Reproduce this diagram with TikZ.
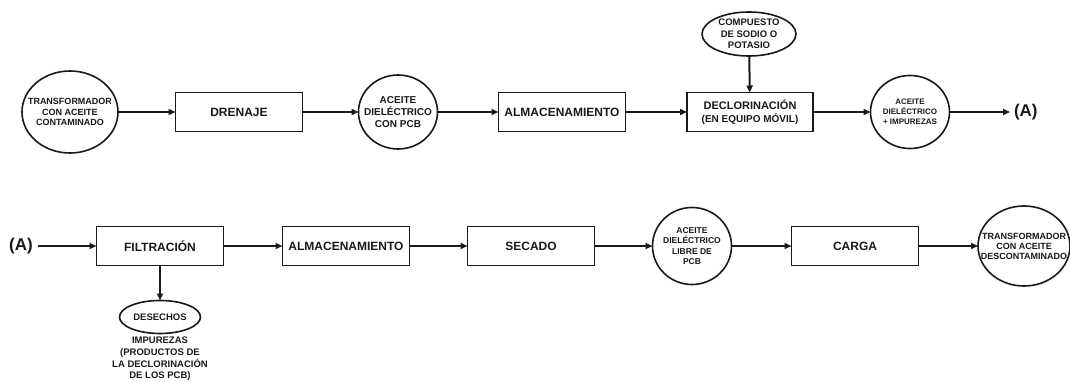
\documentclass[tikz,border=0pt]{standalone}
\usepackage{fontspec}
\setmainfont{Liberation Sans}
\usetikzlibrary{shapes.geometric,arrows.meta}
\begin{document}
\begin{tikzpicture}[x=1pt,y=-1pt,
  every node/.style={inner sep=0pt,outer sep=0pt,text=black!90,align=center},
  every label/.style={inner sep=0pt,outer sep=0pt,text=black!90,align=center},
  stepbox/.style={draw=black!90,line width=1.6pt,rectangle,minimum width=127pt,minimum height=39pt,font=\bfseries\fontsize{12}{13}\selectfont},
  oval/.style={draw=black!90,line width=1.6pt,ellipse},
  flow/.style={draw=black!90,line width=2pt,-{Triangle[length=7pt,width=6pt]}}
]
\useasboundingbox (0,0) rectangle (1070,382);
% Row 1
\node[oval,minimum width=96pt,minimum height=82pt,label={[font=\bfseries\fontsize{9}{10.5}\selectfont]center:TRANSFORMADOR\\CON ACEITE\\CONTAMINADO}] (t1) at (70,112) {};
\node[stepbox] (dren) at (239,112) {DRENAJE};
\node[oval,minimum width=79pt,minimum height=74pt,label={[font=\bfseries\fontsize{10}{12}\selectfont]center:ACEITE\\DIELÉCTRICO\\CON PCB}] (c2) at (398,112) {};
\node[stepbox] (alm1) at (562,112) {ALMACENAMIENTO};
\node[stepbox,minimum width=126pt,label={[font=\bfseries\fontsize{11}{13}\selectfont]center:DECLORINACIÓN\\{\fontsize{10}{11}\selectfont (EN EQUIPO MÓVIL)}}] (decl) at (750,112) {};
\node[oval,minimum width=94pt,minimum height=44pt,label={[font=\bfseries\fontsize{9.5}{11.5}\selectfont]center:COMPUESTO\\DE SODIO O\\POTASIO}] (comp) at (749,34) {};
\node[oval,minimum width=79pt,minimum height=73pt,label={[font=\bfseries\fontsize{8}{10}\selectfont]center:ACEITE\\DIELÉCTRICO\\+ IMPUREZAS}] (c3) at (910,112) {};
\node[font=\bfseries\fontsize{17}{19}\selectfont,anchor=west] (a1) at (1014,112) {(A)};
\draw[flow] (t1) -- (dren);
\draw[flow] (dren) -- (c2);
\draw[flow] (c2) -- (alm1);
\draw[flow] (alm1) -- (decl);
\draw[flow] (comp) -- (decl);
\draw[flow] (decl) -- (c3);
\draw[flow] (c3) -- ([xshift=-4pt]a1.west);
% Row 2
\node[font=\bfseries\fontsize{17}{19}\selectfont] (a2) at (21,246) {(A)};
\node[stepbox] (filt) at (160,246) {FILTRACIÓN};
\node[stepbox] (alm2) at (346,246) {ALMACENAMIENTO};
\node[stepbox] (sec) at (531,246) {SECADO};
\node[oval,minimum width=79pt,minimum height=77pt,label={[font=\bfseries\fontsize{8.5}{10.3}\selectfont]center:ACEITE\\DIELÉCTRICO\\LIBRE DE\\PCB}] (c4) at (692,246) {};
\node[stepbox] (carga) at (855,246) {CARGA};
\node[oval,minimum width=92pt,minimum height=80pt,label={[font=\bfseries\fontsize{9}{10}\selectfont]center:TRANSFORMADOR\\CON ACEITE\\DESCONTAMINADO}] (t2) at (1024,246) {};
\node[oval,minimum width=81pt,minimum height=33pt,label={[font=\bfseries\fontsize{9.5}{11}\selectfont]center:DESECHOS}] (des) at (160,317) {};
\node[font=\bfseries\fontsize{9.5}{11.7}\selectfont,anchor=north] (imp) at (160,337) {IMPUREZAS\\(PRODUCTOS DE\\LA DECLORINACIÓN\\DE LOS PCB)};
\draw[flow] ([xshift=5pt]a2.east) -- (filt);
\draw[flow] (filt) -- (alm2);
\draw[flow] (alm2) -- (sec);
\draw[flow] (sec) -- (c4);
\draw[flow] (c4) -- (carga);
\draw[flow] (carga) -- (t2);
\draw[flow] (filt) -- (des);
\end{tikzpicture}
\end{document}
